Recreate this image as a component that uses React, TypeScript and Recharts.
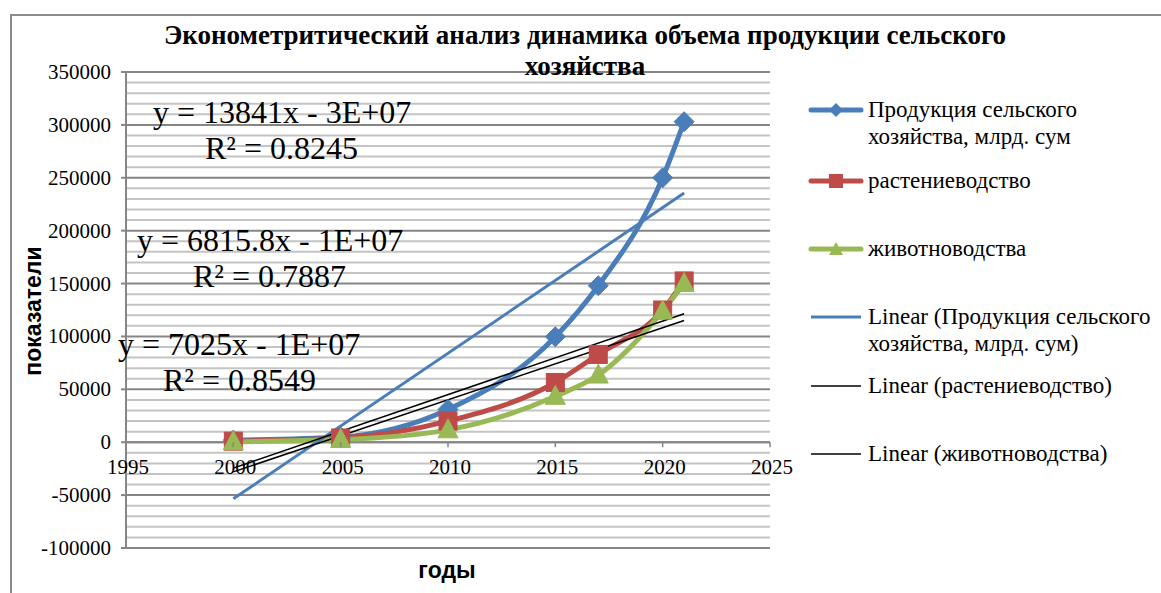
import React from 'react';
import { LineChart, Line, XAxis, YAxis, CartesianGrid, ReferenceLine } from 'recharts';

const years = [2000, 2005, 2010, 2015, 2017, 2020, 2021];
const agriculture = [2000, 5000, 31000, 99700, 148000, 250000, 303000];
const cropProduction = [1000, 4000, 20000, 56500, 83000, 125000, 152500];
const livestock = [500, 2500, 11700, 43400, 63500, 124000, 150000];

const trendYears = [2000, 2021];
const agricultureTrend = [-53500, 235500];
const cropTrend = [-24500, 121500];
const livestockTrend = [-28000, 115000];

const xTicks = [1995, 2000, 2005, 2010, 2015, 2020, 2025];
const yTicks = [-100000, -50000, 0, 50000, 100000, 150000, 200000, 250000, 300000, 350000];
const yMinorTicks = [
  -90000, -80000, -70000, -60000, -40000, -30000, -20000, -10000,
  10000, 20000, 30000, 40000, 60000, 70000, 80000, 90000,
  110000, 120000, 130000, 140000, 160000, 170000, 180000, 190000,
  210000, 220000, 230000, 240000, 260000, 270000, 280000, 290000,
  310000, 320000, 330000, 340000,
];

const equations = [
  { eq: 'y = 13841x - 3E+07', r2: 'R² = 0.8245' },
  { eq: 'y = 6815.8x - 1E+07', r2: 'R² = 0.7887' },
  { eq: 'y = 7025x - 1E+07', r2: 'R² = 0.8549' },
];

const seriesNames = [
  'Продукция сельского хозяйства, млрд. сум',
  'растениеводство',
  'животноводства',
];

const BLUE = '#4a7ebb';
const RED = '#be4b48';
const GREEN = '#98b954';
const SERIF = '"Liberation Serif", "Times New Roman", serif';
const SANS = '"Liberation Sans", Arial, sans-serif';

const W = 1161;
const H = 593;
const M = { top: 72, right: 391, bottom: 0, left: 46 };
const X_AXIS_H = 45;
const PLOT_H = H - M.top - X_AXIS_H;
const Y_MIN = -100000;
const Y_MAX = 350000;
const ZERO_OFF = (PLOT_H * (0 - Y_MIN)) / (Y_MAX - Y_MIN);

const toRows = (xs: number[], ys: number[]) => xs.map((x, i) => ({ year: x, value: ys[i] }));

const Diamond = (p: any) => {
  const { cx, cy } = p;
  if (cx == null || cy == null) return null;
  const r = 10;
  return <path d={`M${cx},${cy - r}L${cx + r},${cy}L${cx},${cy + r}L${cx - r},${cy}Z`} fill={BLUE} stroke={BLUE} />;
};
const Square = (p: any) => {
  const { cx, cy } = p;
  if (cx == null || cy == null) return null;
  return <rect x={cx - 9} y={cy - 9} width={18} height={18} fill={RED} stroke={RED} />;
};
const Triangle = (p: any) => {
  const { cx, cy } = p;
  if (cx == null || cy == null) return null;
  return <path d={`M${cx},${cy - 11}L${cx + 10},${cy + 8}L${cx - 10},${cy + 8}Z`} fill={GREEN} stroke={GREEN} />;
};

const XTick = (p: any) => {
  const { x, y, payload } = p;
  const zy = y - ZERO_OFF;
  return (
    <g>
      <line x1={x} x2={x} y1={zy} y2={zy + 5} stroke="#868686" strokeWidth={1.5} />
      <text x={x + 2} y={zy + 32} textAnchor="middle" style={{ fontFamily: SERIF, fontSize: 21, fill: '#000' }}>
        {payload.value}
      </text>
    </g>
  );
};

const YTick = (p: any) => {
  const { x, y, payload } = p;
  return (
    <text x={x} y={y + 7} textAnchor="end" style={{ fontFamily: SERIF, fontSize: 21, fill: '#000' }}>
      {payload.value}
    </text>
  );
};

const LegendIcon = ({ color, marker, thin }: { color: string; marker?: string; thin?: number }) => (
  <svg width={56} height={18} style={{ display: 'block' }}>
    <line x1={3} x2={53} y1={9} y2={9} stroke={color} strokeWidth={thin ?? 5} strokeLinecap={thin ? 'butt' : 'round'} />
    {marker === 'diamond' && <path d="M28,2L35,9L28,16L21,9Z" fill={color} />}
    {marker === 'square' && <rect x={21} y={2} width={14} height={14} fill={color} />}
    {marker === 'triangle' && <path d="M28,2L35,15L21,15Z" fill={color} />}
  </svg>
);

const legendItems = [
  { label: seriesNames[0], color: BLUE, marker: 'diamond', top: 96 },
  { label: seriesNames[1], color: RED, marker: 'square', top: 167 },
  { label: seriesNames[2], color: GREEN, marker: 'triangle', top: 235 },
  { label: `Linear (${seriesNames[0]})`, color: BLUE, thin: 3, top: 303 },
  { label: `Linear (${seriesNames[1]})`, color: '#000', thin: 1.5, top: 372 },
  { label: `Linear (${seriesNames[2]})`, color: '#000', thin: 1.5, top: 440 },
];

const eqPos = [
  { left: 153, top: 94, r2Left: 205 },
  { left: 137, top: 222, r2Left: 193 },
  { left: 118, top: 326, r2Left: 163 },
];

export default function App() {
  return (
    <div style={{ position: 'absolute', left: 0, top: 0, width: W, height: H, background: '#fff', overflow: 'hidden' }}>
      <div
        style={{
          position: 'absolute', left: 10, top: 14, width: W, height: H,
          borderTop: '2px solid #8c8c8c', borderLeft: '2px solid #8c8c8c',
        }}
      />
      <div style={{ position: 'absolute', left: 0, top: 0 }}>
        <LineChart width={W} height={H} margin={M}>
          <CartesianGrid horizontal vertical={false} horizontalValues={yMinorTicks} stroke="#c4c4c4" strokeWidth={2} />
          <CartesianGrid horizontal vertical={false} horizontalValues={yTicks} stroke="#868686" strokeWidth={2} />
          <XAxis
            dataKey="year"
            type="number"
            domain={[1995, 2025]}
            ticks={xTicks}
            interval={0}
            height={X_AXIS_H}
            axisLine={false}
            tickLine={false}
            tickSize={0}
            tickMargin={0}
            tick={<XTick />}
            allowDataOverflow
          />
          <YAxis
            type="number"
            domain={[Y_MIN, Y_MAX]}
            ticks={yTicks}
            interval={0}
            width={80}
            tickSize={5}
            tickMargin={10}
            axisLine={{ stroke: '#868686', strokeWidth: 2 }}
            tickLine={{ stroke: '#868686', strokeWidth: 2 }}
            tick={<YTick />}
            allowDataOverflow
          />
          <ReferenceLine y={0} stroke="#868686" strokeWidth={2} />
          <Line data={toRows(years, agriculture)} type="monotone" dataKey="value" stroke={BLUE} strokeWidth={5} dot={<Diamond />} isAnimationActive={false} />
          <Line data={toRows(years, cropProduction)} type="monotone" dataKey="value" stroke={RED} strokeWidth={5} dot={<Square />} isAnimationActive={false} />
          <Line data={toRows(years, livestock)} type="monotone" dataKey="value" stroke={GREEN} strokeWidth={5} dot={<Triangle />} isAnimationActive={false} />
          <Line data={toRows(trendYears, agricultureTrend)} dataKey="value" stroke={BLUE} strokeWidth={3} dot={false} isAnimationActive={false} />
          <Line data={toRows(trendYears, cropTrend)} dataKey="value" stroke="#000" strokeWidth={1.5} dot={false} isAnimationActive={false} />
          <Line data={toRows(trendYears, livestockTrend)} dataKey="value" stroke="#000" strokeWidth={1.5} dot={false} isAnimationActive={false} />
        </LineChart>
      </div>

      <div
        style={{
          position: 'absolute', left: 100, width: 970, top: 20, textAlign: 'center',
          fontFamily: SERIF, fontWeight: 'bold', fontSize: 27, lineHeight: '31px', color: '#000',
        }}
      >
        Эконометритический анализ динамика объема продукции сельского
        <br />
        хозяйства
      </div>

      <div
        style={{
          position: 'absolute', left: 33, top: 311, transform: 'translate(-50%, -50%) rotate(-90deg)',
          fontFamily: SANS, fontWeight: 'bold', fontSize: 23, color: '#000', whiteSpace: 'nowrap',
        }}
      >
        показатели
      </div>
      <div
        style={{
          position: 'absolute', left: 447, top: 570, transform: 'translate(-50%, -50%)',
          fontFamily: SANS, fontWeight: 'bold', fontSize: 23, color: '#000',
        }}
      >
        годы
      </div>

      {equations.map((e, i) => (
        <div key={e.eq} style={{ position: 'absolute', left: eqPos[i].left, top: eqPos[i].top, fontFamily: SERIF, fontSize: 32, lineHeight: '36px', color: '#000', whiteSpace: 'nowrap' }}>
          <div>{e.eq}</div>
          <div style={{ marginLeft: eqPos[i].r2Left - eqPos[i].left }}>{e.r2}</div>
        </div>
      ))}

      {legendItems.map((it) => (
        <div key={it.label} style={{ position: 'absolute', left: 808, top: it.top, display: 'flex', alignItems: 'flex-start', fontFamily: SERIF, fontSize: 23, lineHeight: '27px', color: '#000', width: 400 }}>
          <div style={{ marginTop: 5 }}>
            <LegendIcon color={it.color} marker={it.marker} thin={it.thin} />
          </div>
          <div style={{ marginLeft: 4, width: 300 }}>{it.label}</div>
        </div>
      ))}
    </div>
  );
}
